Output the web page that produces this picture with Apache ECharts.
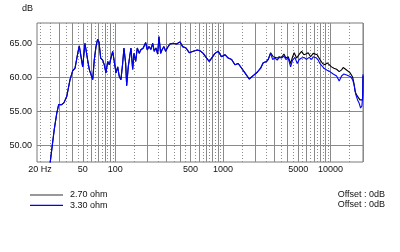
<!DOCTYPE html>
<html><head><meta charset="utf-8">
<script src="https://cdn.jsdelivr.net/npm/echarts@6/dist/echarts.min.js"></script>
<style>html,body{margin:0;padding:0;background:#fff}#c{width:400px;height:252px}</style>
</head><body><div id="c"></div>
<script>
const seriesNames = ['2.70 ohm', '3.30 ohm'];
// [frequency Hz, level dB]
const blueData = [
[24.8,47.3],[27.1,52.3],[28.6,54.7],[29.8,56.0],[31.8,56.0],[33.4,56.3],[35.4,57.2],[38.0,59.7],[40.2,61.0],[42.3,61.4],
[44.8,63.6],[46.3,64.7],[47.7,64.6],[49.8,61.6],[52.3,65.1],[53.5,65.2],[55.4,62.6],[57.4,61.2],[59.5,61.4],[61.7,59.7],
[63.8,62.6],[66.2,64.6],[68.6,65.7],[70.6,65.3],[73.2,62.9],[76.4,62.6],[79.1,61.9],[81.9,60.7],[85.0,62.4],[88.0,61.9],
[91.2,62.9],[94.6,63.9],[97.9,62.4],[101.5,60.7],[105.3,61.6],[108.9,60.2],[112.9,59.7],[117.1,62.1],[120.4,64.4],[124.9,62.1],
[127.6,58.8],[132.0,61.6],[136.9,63.4],[139.9,64.4],[145.1,61.2],[149.2,63.6],[154.7,62.4],[160.1,64.4],[167.1,63.6],[172.2,64.1],
[182.0,64.4],[191.6,65.2],[198.3,64.1],[205.6,64.6],[214.6,64.2],[222.6,65.1],[230.2,63.9],[238.8,64.4],[247.6,63.5],[254.6,66.1],
[264.0,63.6],[273.2,64.2],[283.3,64.6],[293.8,63.9],[304.0,64.4],[322.0,65.0],[345.6,65.1],[371.6,65.0],[398.8,65.3],[422.5,64.6],
[453.5,64.4],[486.6,63.7],[530.1,63.9],[577.4,64.1],[611.5,64.0],[656.3,63.6],[705.8,62.9],[746.1,62.4],[785.4,62.9],[842.8,63.6],
[904.4,63.9],[972.6,63.1],[1044,63.4],[1120,62.9],[1204,62.7],[1292,61.9],[1387,62.1],[1492,61.4],[1601,60.7],[1755,59.8],
[1911,60.3],[2083,60.8],[2239,61.4],[2367,62.2],[2546,62.4],[2634,62.7],[2773,63.6],[2894,62.7],[3040,62.9],[3193,62.6],
[3333,63.0],[3508,62.9],[3686,63.2],[3846,62.7],[4039,62.9],[4252,61.6],[4438,62.6],[4662,63.0],[4898,62.1],[5110,62.7],
[5379,62.9],[5651,63.0],[5988,62.7],[6328,63.0],[6662,62.7],[6893,63.1],[7149,63.2],[7413,62.9],[7671,62.6],[7955,62.1],
[8250,61.9],[8665,61.4],[9181,61.15],[9852,60.9],[10570,60.55],[11370,60.25],[12020,59.5],[12650,60.25],[13290,60.55],[14080,60.4],
[14570,60.65],[15340,60.15],[16010,59.7],[16560,58.9],[17180,57.45],[17810,56.7],[18440,56.2],[18990,55.5],[19530,55.8],[19850,57.2],
[20000,60.5]
];
const blackData = [
[24.8,47.3],[27.1,52.3],[28.6,54.7],[29.8,56.0],[31.8,56.0],[33.4,56.3],[35.4,57.2],[38.0,59.7],[40.2,61.0],[42.3,61.4],
[44.8,63.6],[46.3,64.7],[47.7,64.6],[49.8,61.6],[52.3,65.1],[53.5,65.2],[55.4,62.6],[57.4,61.2],[59.5,61.4],[61.7,59.7],
[63.8,62.6],[66.2,64.6],[68.6,65.7],[70.6,65.3],[73.2,62.9],[76.4,62.6],[79.1,61.9],[81.9,60.7],[85.0,62.4],[88.0,61.9],
[91.2,62.9],[94.6,63.9],[97.9,62.4],[101.5,60.7],[105.3,61.6],[108.9,60.2],[112.9,59.7],[117.1,62.1],[120.4,64.4],[124.9,62.1],
[127.6,58.8],[132.0,61.6],[136.9,63.4],[139.9,64.4],[145.1,61.2],[149.2,63.6],[154.7,62.4],[160.1,64.4],[167.1,63.6],[172.2,64.1],
[182.0,64.4],[191.6,65.2],[198.3,64.1],[205.6,64.6],[214.6,64.2],[222.6,65.1],[230.2,63.9],[238.8,64.4],[247.6,63.5],[254.6,66.1],
[264.0,63.6],[273.2,64.2],[283.3,64.6],[293.8,63.9],[304.0,64.4],[322.0,65.0],[345.6,65.1],[371.6,65.0],[398.8,65.3],[422.5,64.6],
[453.5,64.4],[486.6,63.7],[530.1,63.9],[577.4,64.1],[611.5,64.0],[656.3,63.6],[705.8,62.9],[746.1,62.4],[785.4,62.9],[842.8,63.6],
[904.4,63.9],[972.6,63.1],[1044,63.4],[1120,62.9],[1204,62.7],[1292,61.9],[1387,62.1],[1492,61.4],[1601,60.7],[1755,59.8],
[1911,60.3],[2083,60.8],[2239,61.4],[2367,62.2],[2546,62.4],[2634,62.7],[2773,63.7],[2931,63.1],[3040,63.2],[3193,62.9],
[3333,63.1],[3508,63.0],[3686,63.5],[3846,62.9],[4039,63.1],[4252,62.1],[4438,63.1],[4592,63.7],[4834,62.9],[5077,63.4],
[5379,63.9],[5651,63.4],[5898,63.5],[6194,63.7],[6520,63.1],[6893,63.6],[7149,63.7],[7508,63.4],[7955,62.7],[8427,62.1],
[8853,61.9],[9299,62.2],[9705,62.1],[10210,61.6],[10730,61.4],[11370,61.25],[12020,60.9],[12650,61.15],[13090,61.5],[13780,61.25],
[14380,61.4],[15110,60.75],[16010,60.1],[16460,59.2],[16920,57.9],[17430,57.45],[18040,57.2],[18710,56.7],[19400,56.5],[19820,56.7],
[19950,58.0],[20000,60.3]
];
const xLabelHz = [20, 50, 100, 500, 1000, 5000, 10000];
const xSolidHz = [30,40,50,60,70,80,90,100,200,300,400,500,600,700,800,900,1000,2000,3000,4000,5000,6000,7000,8000,9000,10000,20000];
const xDottedHz = [20,25,35,45,55,65,75,85,95,150,250,350,450,550,650,750,850,950,1500,2500,3500,4500,5500,6500,7500,8500,9500,15000];
const yTicks = [50, 55, 60, 65];
const offsetTexts = ['Offset : 0dB', 'Offset : 0dB'];
const xMinHz = 18.75, xMaxHz = 20000, yMin = 47.5, yMax = 68.1;

const lg = v => Math.log10(v);
const toLog = d => d.map(p => [lg(p[0]), p[1]]);
const FONT = '"Liberation Sans", Arial, sans-serif';
const TXT = '#111';

const chart = echarts.init(document.getElementById('c'), null, {renderer: 'canvas'});
chart.setOption({
  animation: false,
  backgroundColor: '#fff',
  title: {text: 'dB', left: 22, top: 4, padding: 0,
    textStyle: {fontSize: 9, fontWeight: 'normal', fontFamily: FONT, color: TXT}},
  grid: {left: 37, right: 37, top: 23, bottom: 90, show: true, borderColor: '#7a7a7a', borderWidth: 1, backgroundColor: 'transparent'},
  xAxis: [{
    type: 'value', min: lg(xMinHz), max: lg(xMaxHz), position: 'bottom',
    axisLine: {show: false}, axisTick: {show: false, customValues: xSolidHz.map(lg)},
    axisLabel: {customValues: xLabelHz.map(lg), margin: 3, fontSize: 9, fontFamily: FONT, color: TXT,
      formatter: v => { const f = Math.round(Math.pow(10, v)); return f === 20 ? '20 Hz' : String(f); }},
    splitLine: {show: true, lineStyle: {color: '#8a8a8a', width: 1, type: 'solid'}}
  }, {
    type: 'value', min: lg(xMinHz), max: lg(xMaxHz), position: 'top',
    axisLine: {show: false}, axisTick: {show: false, customValues: xDottedHz.map(lg)},
    axisLabel: {show: false, customValues: xDottedHz.map(lg)},
    splitLine: {show: true, lineStyle: {color: '#8a8a8a', width: 1, type: [1, 2]}}
  }],
  yAxis: {
    type: 'value', min: yMin, max: yMax,
    axisLine: {show: false}, axisTick: {show: false, customValues: yTicks},
    axisLabel: {customValues: yTicks, margin: 5, fontSize: 9, fontFamily: FONT, color: TXT, formatter: v => v.toFixed(2)},
    splitLine: {show: true, lineStyle: {color: '#8a8a8a', width: 1}}
  },
  legend: {orient: 'vertical', left: 30, top: 190, padding: 0, itemWidth: 33, itemHeight: 1.2, itemGap: 0.3,
    icon: 'rect', data: seriesNames,
    textStyle: {fontSize: 9, lineHeight: 10, fontFamily: FONT, color: TXT, padding: [0, 0, 0, 2]}},
  graphic: [
    {type: 'text', right: 15, top: 190, style: {text: offsetTexts[0], font: '9px ' + FONT, fill: TXT}},
    {type: 'text', right: 15, top: 200.3, style: {text: offsetTexts[1], font: '9px ' + FONT, fill: TXT}}
  ],
  series: [
    {name: seriesNames[0], type: 'line', xAxisIndex: 0, data: toLog(blackData), symbol: 'none', showSymbol: false,
      color: '#333', itemStyle: {color: '#333'}, lineStyle: {color: '#000', width: 1.1}, clip: true},
    {name: seriesNames[1], type: 'line', xAxisIndex: 0, data: toLog(blueData), symbol: 'none', showSymbol: false,
      color: '#0000ff', itemStyle: {color: '#0000ff'}, lineStyle: {color: '#0000ff', width: 1.1}, clip: true}
  ]
});
</script></body></html>
